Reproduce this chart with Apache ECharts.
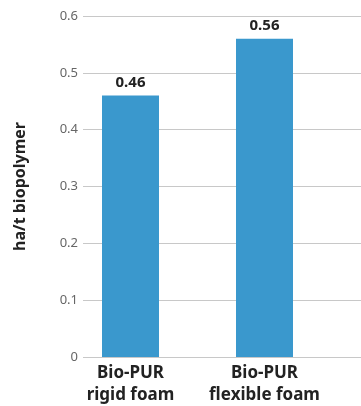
<!DOCTYPE html>
<html>
<head>
<meta charset="utf-8">
<script src="https://cdn.jsdelivr.net/npm/echarts@6/dist/echarts.min.js"></script>
<style>
  html, body { margin: 0; padding: 0; background: #fff; }
  #chart { width: 361px; height: 406px; }
</style>
</head>
<body>
<div id="chart"></div>
<script>
const categories = ['Bio-PUR\nrigid foam', 'Bio-PUR\nflexible foam']
const landUse = [0.46, 0.56]
const yTickLabels = ['0', '0.1', '0.2', '0.3', '0.4', '0.5', '0.6']
const yName = 'ha/t biopolymer'

const FONT = '"Noto Sans", sans-serif'
let chart = echarts.init(document.getElementById('chart'))
chart.setOption({
  animation: false,
  grid: [
    { left: 83, right: 0, top: 16, bottom: 49 },
    { left: 63.5, right: 29.5, top: 16, bottom: 49 }
  ],
  xAxis: [
    { gridIndex: 0, type: 'category', data: [], show: false },
    {
      gridIndex: 1,
      type: 'category',
      data: categories,
      axisLine: { show: false },
      axisTick: { show: false },
      axisLabel: {
        interval: 0,
        color: '#222',
        fontFamily: FONT,
        fontWeight: 'bold',
        fontSize: 17,
        lineHeight: 22,
        margin: 5
      }
    }
  ],
  yAxis: [
    {
      gridIndex: 0,
      type: 'value',
      min: 0,
      max: 0.6,
      interval: 0.1,
      name: yName,
      nameLocation: 'middle',
      nameGap: 55,
      nameTextStyle: {
        color: '#222',
        fontFamily: FONT,
        fontWeight: 'bold',
        fontSize: 16
      },
      axisLine: { show: false },
      axisTick: { show: false },
      splitLine: { lineStyle: { color: '#c8c8c8', width: 1 } },
      axisLabel: {
        color: '#666',
        fontFamily: FONT,
        fontSize: 13,
        margin: 5,
        formatter: v => yTickLabels[Math.round(v * 10)]
      }
    },
    { gridIndex: 1, type: 'value', min: 0, max: 0.6, show: false }
  ],
  series: [{
    type: 'bar',
    xAxisIndex: 1,
    yAxisIndex: 1,
    data: landUse,
    barWidth: 57,
    itemStyle: { color: '#3a98cd' },
    label: {
      show: true,
      position: 'top',
      distance: 5,
      color: '#222',
      fontFamily: FONT,
      fontWeight: 'bold',
      fontSize: 15
    }
  }]
})
</script>
</body>
</html>
